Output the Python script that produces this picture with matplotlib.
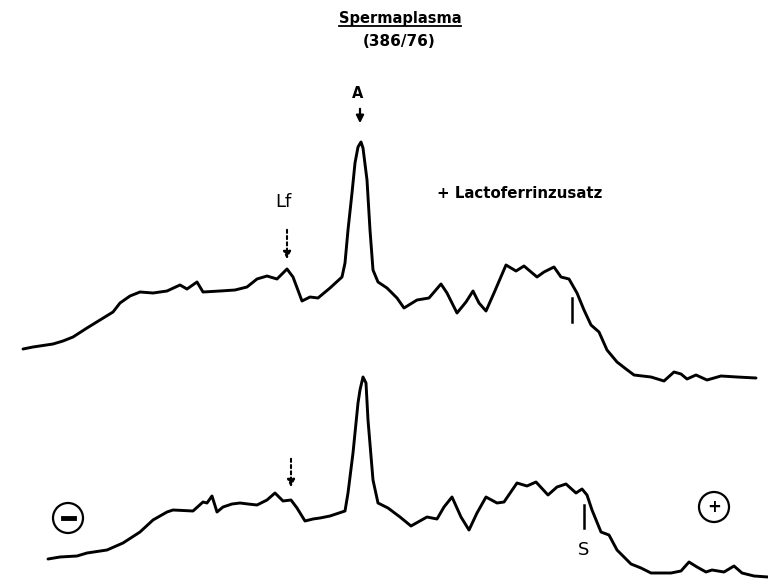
import matplotlib.pyplot as plt
from matplotlib.patches import Circle

# densitometer scans, migration position vs. trace level (plot units)
upper_x = [23, 33, 53, 63, 73, 87, 100, 113, 120, 130, 140, 153, 167, 180,
           187, 197, 203, 220, 235, 247, 257, 267, 277, 287, 293, 302, 310,
           318, 330, 342, 345, 348, 352, 355, 358, 361, 363, 367, 370, 373,
           378, 387, 397, 404, 417, 429, 441, 447, 457, 466, 473, 479, 486,
           494, 506, 516, 524, 537, 544, 554, 561, 569, 577, 584, 591, 599,
           607, 617, 626, 634, 651, 664, 674, 681, 687, 696, 707, 721, 737,
           756]
upper_y = [349, 347, 344, 341, 337, 328, 320, 312, 303, 296, 292, 293, 291, 285,
           289, 282, 292, 291, 290, 287, 279, 276, 279, 269, 277, 301, 297,
           298, 288, 277, 263, 230, 193, 163, 147, 142, 148, 180, 230, 270,
           282, 288, 298, 308, 300, 298, 284, 293, 313, 302, 291, 303, 311,
           293, 265, 271, 266, 277, 272, 267, 277, 279, 293, 310, 325, 332,
           350, 362, 369, 375, 377, 381, 372, 374, 379, 375, 380, 376, 377,
           378]

lower_x = [48, 60, 77, 87, 107, 123, 140, 153, 167, 173, 193, 203, 207, 212,
           217, 223, 232, 240, 248, 257, 267, 275, 283, 291, 297, 305, 313,
           320, 330, 345, 348, 353, 358, 360, 363, 366, 368, 373, 378, 388,
           400, 411, 427, 437, 444, 452, 461, 469, 477, 486, 497, 504, 517,
           527, 536, 548, 557, 566, 576, 582, 587, 592, 601, 609, 617, 631,
           641, 651, 671, 681, 689, 697, 706, 712, 724, 734, 742, 754, 768]
lower_y = [559, 557, 556, 553, 550, 543, 532, 520, 512, 510, 511, 502, 503, 496,
           512, 507, 504, 503, 504, 505, 500, 493, 501, 500, 508, 521, 519,
           518, 516, 511, 493, 453, 403, 390, 377, 383, 420, 480, 503, 508,
           517, 526, 517, 519, 507, 497, 517, 530, 513, 497, 503, 502, 483,
           486, 482, 495, 487, 484, 493, 489, 495, 510, 532, 535, 550, 564,
           568, 573, 573, 571, 562, 567, 572, 570, 572, 566, 573, 576, 577]

fig = plt.figure(figsize=(7.68, 5.80), dpi=100)
ax = fig.add_axes([0, 0, 1, 1])
ax.set_xlim(0, 768)
ax.set_ylim(580, 0)
ax.axis("off")

trace = dict(color="black", lw=2.1, solid_joinstyle="round", solid_capstyle="round")
ax.plot(upper_x, upper_y, **trace)
ax.plot(lower_x, lower_y, **trace)

# title
ax.text(400, 19, "Spermaplasma", ha="center", va="center", fontsize=10.5,
        fontweight="bold", family="DejaVu Sans Condensed")
ax.plot([339, 461], [26, 26], color="black", lw=1.3)
ax.text(399, 41, "(386/76)", ha="center", va="center", fontsize=11,
        fontweight="bold", family="DejaVu Sans Condensed")

# peak A
ax.text(358, 93, "A", ha="center", va="center", fontsize=10.5, fontweight="bold")
ax.annotate("", xy=(360, 126), xytext=(360, 106),
            arrowprops=dict(arrowstyle="-|>", color="black", lw=1.6,
                            mutation_scale=11))

# lactoferrin markers
ax.text(283, 202, "Lf", ha="center", va="center", fontsize=13)
ax.annotate("", xy=(287, 262), xytext=(287, 227),
            arrowprops=dict(arrowstyle="-|>", color="black", lw=1.5,
                            linestyle=(0, (1.5, 1.5)), mutation_scale=11))
ax.annotate("", xy=(291, 490), xytext=(291, 456),
            arrowprops=dict(arrowstyle="-|>", color="black", lw=1.5,
                            linestyle=(0, (1.5, 1.5)), mutation_scale=11))
ax.text(437, 193, "+ Lactoferrinzusatz", ha="left", va="center", fontsize=10.8,
        fontweight="bold", family="DejaVu Sans Condensed")

# S marks
ax.plot([572, 572], [298, 322], color="black", lw=1.8)
ax.plot([584, 584], [505, 528], color="black", lw=1.8)
ax.text(584, 550, "S", ha="center", va="center", fontsize=13)

# electrode poles
ax.add_patch(Circle((68, 518), 15, fill=False, lw=1.6, color="black"))
ax.plot([63, 74], [518, 518], color="black", lw=3.5)
ax.add_patch(Circle((714, 507), 15, fill=False, lw=1.6, color="black"))
ax.text(714, 507, "+", ha="center", va="center", fontsize=12, fontweight="bold")

fig.savefig("out.png", dpi=100)
